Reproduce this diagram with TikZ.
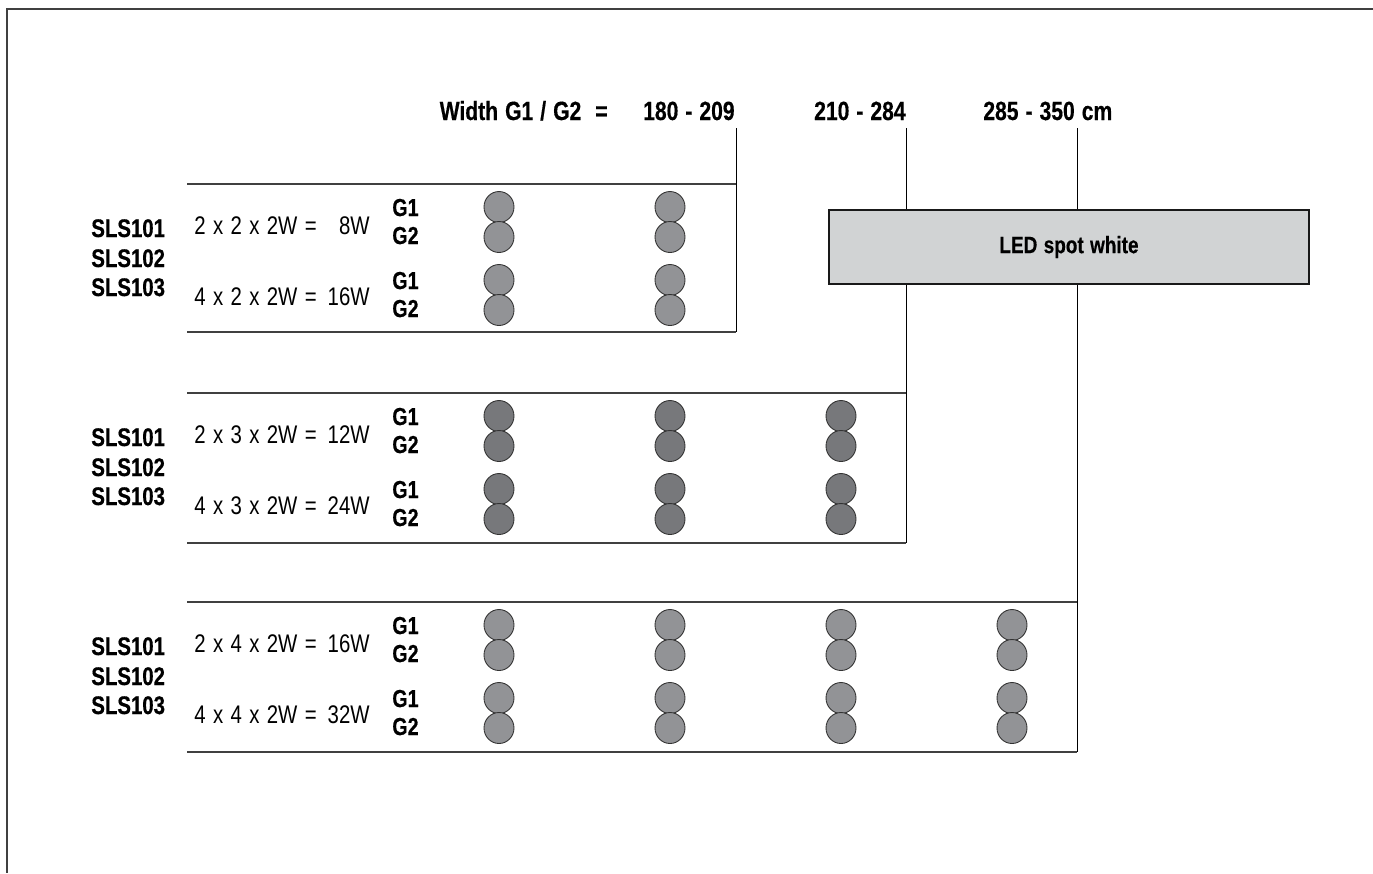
\documentclass[tikz,border=0pt]{standalone}
\usepackage{fontspec}
\setmainfont{Liberation Sans}[FakeStretch=0.8, WordSpace=1.3,
    BoldFeatures={FakeStretch=0.8, WordSpace=1.2, FakeBold=0.4}]
\usepackage{tikz}
\usetikzlibrary{positioning}
\definecolor{lampgray}{HTML}{929396}
\definecolor{lampdark}{HTML}{77787B}
\definecolor{ledgray}{HTML}{D1D3D4}

\begin{document}
\begin{tikzpicture}[
    x=0.02cm, y=-0.02cm,
    frameline/.style={draw=black!75, line width=0.9pt},
    rowline/.style={draw=black!75, line width=0.85pt},
    colline/.style={draw=black, line width=0.55pt},
    hdrlbl/.style={font=\fontsize{15}{17}\selectfont\bfseries, inner sep=0pt},
    typelbl/.style={font=\fontsize{14.5}{16}\selectfont\bfseries, inner sep=0pt,
                anchor=base west},
    powerlbl/.style={font=\fontsize{14.5}{16}\selectfont, inner sep=0pt},
    grplbl/.style={font=\fontsize{14}{15}\selectfont\bfseries, inner sep=0pt,
                anchor=base west},
    lamp/.style={draw=black!80, line width=0.5pt},
    ledbox/.style={rectangle, draw=black!90, line width=1.4pt, fill=ledgray,
                minimum width=9.6cm, minimum height=1.48cm,
                font=\fontsize{13.5}{15}\selectfont\bfseries},
]
\useasboundingbox (0,0) rectangle (1373,873);
\draw[frameline] (1373,9) -- (7,9) -- (7,873);
% width header
\node[hdrlbl, anchor=base east] (wlbl) at (608,120) {Width G1 / G2 \ =};
\node[hdrlbl, anchor=base east] (w1) at (735,120) {180 - 209};
\node[hdrlbl, anchor=base east] (w2) at (906,120) {210 - 284};
\node[hdrlbl, anchor=base west] (w3) at (983,120) {285 - 350 cm};
% one block per number of spots
\foreach \ytop/\ybot/\xr/\nn/\wa/\wb/\col in
    {184/332/736/2/8W/16W/lampgray,
     393/543/906/3/12W/24W/lampdark,
     602/752/1077/4/16W/32W/lampgray}{
  \coordinate (top\nn) at (\xr,128);
  \coordinate (tl\nn) at (187,\ytop);
  \coordinate (tr\nn) at (\xr,\ytop);
  \coordinate (bl\nn) at (187,\ybot);
  \coordinate (br\nn) at (\xr,\ybot);
  \draw[rowline] (tl\nn) -- (tr\nn);
  \draw[rowline] (bl\nn) -- (br\nn);
  \draw[colline] (top\nn) -- (br\nn);
  \node[typelbl] (slsa\nn) at (91,\ytop+53)  {SLS101};
  \node[typelbl] (slsb\nn) at (91,\ytop+83)  {SLS102};
  \node[typelbl] (slsc\nn) at (91,\ytop+112) {SLS103};
  \node[powerlbl, anchor=base west] (fa\nn) at (194,\ytop+50)  {2 x \nn{} x 2W =};
  \node[powerlbl, anchor=base east] (pa\nn) at (370,\ytop+50)  {\wa};
  \node[powerlbl, anchor=base west] (fb\nn) at (194,\ytop+121) {4 x \nn{} x 2W =};
  \node[powerlbl, anchor=base east] (pb\nn) at (370,\ytop+121) {\wb};
  \foreach \dy/\g in {32/G1, 60/G2, 105/G1, 133/G2}
    \node[grplbl] (g\nn-\dy) at (392,\ytop+\dy) {\g};
  \foreach \k [evaluate=\k as \cx using 499+(\k-1)*171] in {1,...,\nn}
    \foreach \dy in {23,53,96,126}
      \filldraw[lamp, fill=\col] (\cx,\ytop+\dy) circle[x radius=0.3cm, y radius=0.31cm];
}
\node[ledbox] (led) at (1069,247) {LED spot white};
\end{tikzpicture}
\end{document}
